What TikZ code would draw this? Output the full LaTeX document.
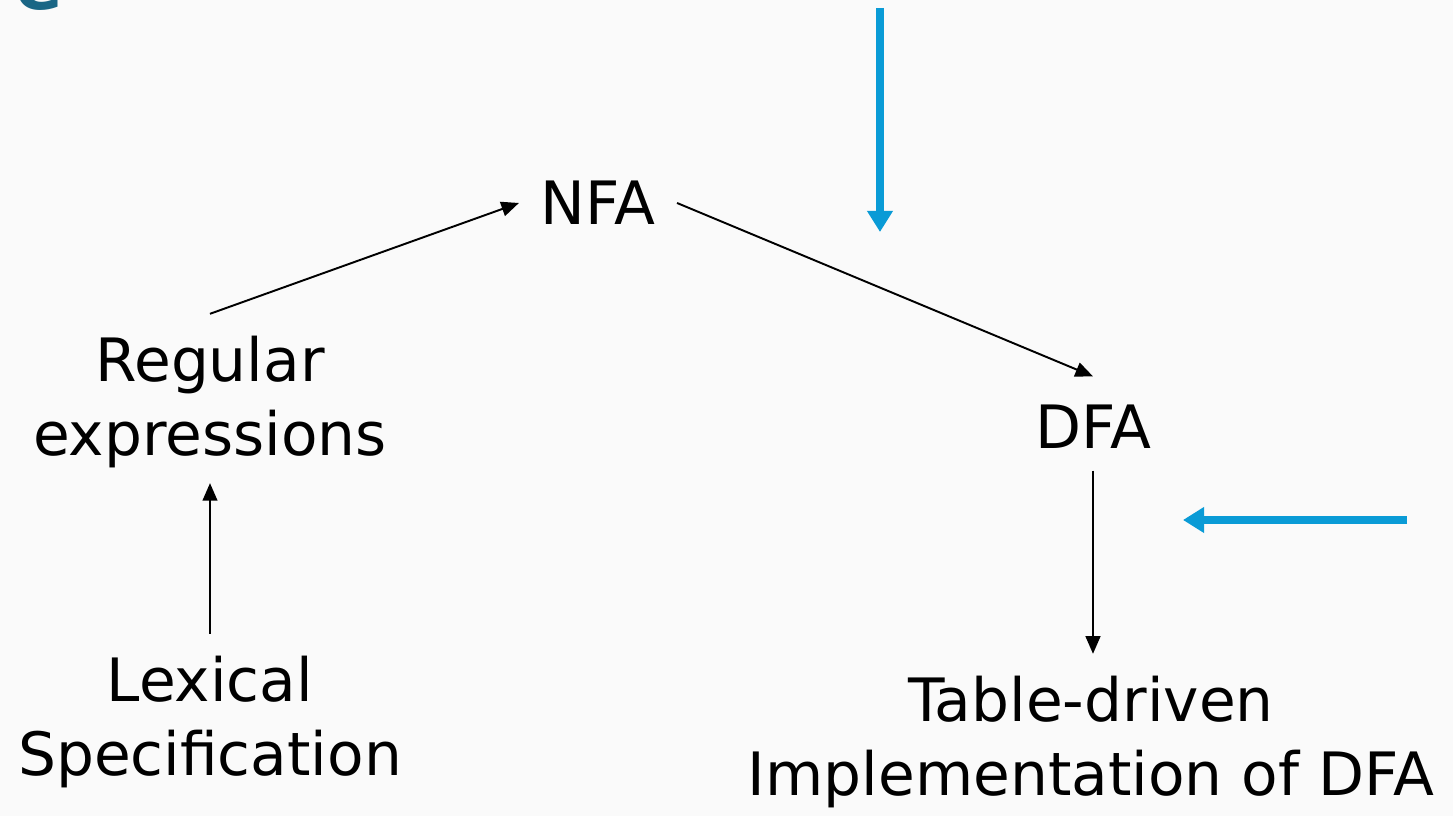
\documentclass[tikz,border=0pt]{standalone}
\usepackage{fontspec}
\setmainfont{DejaVu Sans}
\usetikzlibrary{arrows.meta}
\definecolor{slidebg}{HTML}{FAFAFA}
\definecolor{titleteal}{HTML}{1A6685}
\definecolor{hintblue}{HTML}{0A9BD6}
\tikzset{
	stage/.style={align=center, inner sep=0pt, font=\fontsize{17}{21.3}\selectfont},
	flow/.style={line width=0.55pt, -{Triangle[length=5pt,width=4.2pt]}},
	hint/.style={hintblue, line width=2pt, -{Triangle[length=6pt,width=7pt]}}
}
\begin{document}
\begin{tikzpicture}[x=0.01cm, y=-0.01cm]
		% Slide background and cut-off title
		\fill[slidebg] (0,0) rectangle (1453,816);
		\useasboundingbox (0,0) rectangle (1453,816);
		\node[anchor=base west, inner sep=0pt, text=titleteal, font=\fontsize{20}{24}\selectfont\bfseries] (title) at (-20,10) {re};
		% Stages of the lexer construction
		\node[stage] (nfa) at (598,203) {NFA};
		\node[stage] (regex) at (210,402) {Regular\\expressions};
		\node[stage] (dfa) at (1093,427) {DFA};
		\node[stage] (lexspec) at (210,722) {Lexical\\Specification};
		\node[stage] (table) at (1091,742) {Table-driven\\Implementation of DFA};
		% Black arrows between the stages
		\draw[flow] ([yshift=6pt]lexspec.north) -- ([yshift=-4pt]regex.south);
		\draw[flow] ([yshift=6pt]regex.north) -- ([xshift=-6pt]nfa.west);
		\draw[flow] ([xshift=6pt]nfa.east) -- ([yshift=8pt]dfa.north);
		\draw[flow] ([yshift=-6pt]dfa.south) -- ([yshift=6pt]dfa.south |- table.north);
		% Blue pointers
		\coordinate (downtop) at (880,8);
		\coordinate (downtip) at (880,232);
		\coordinate (lefttail) at (1407,520);
		\coordinate (lefttip) at (1183,520);
		\draw[hint] (downtop) -- (downtip);
		\draw[hint] (lefttail) -- (lefttip);
\end{tikzpicture}
\end{document}
